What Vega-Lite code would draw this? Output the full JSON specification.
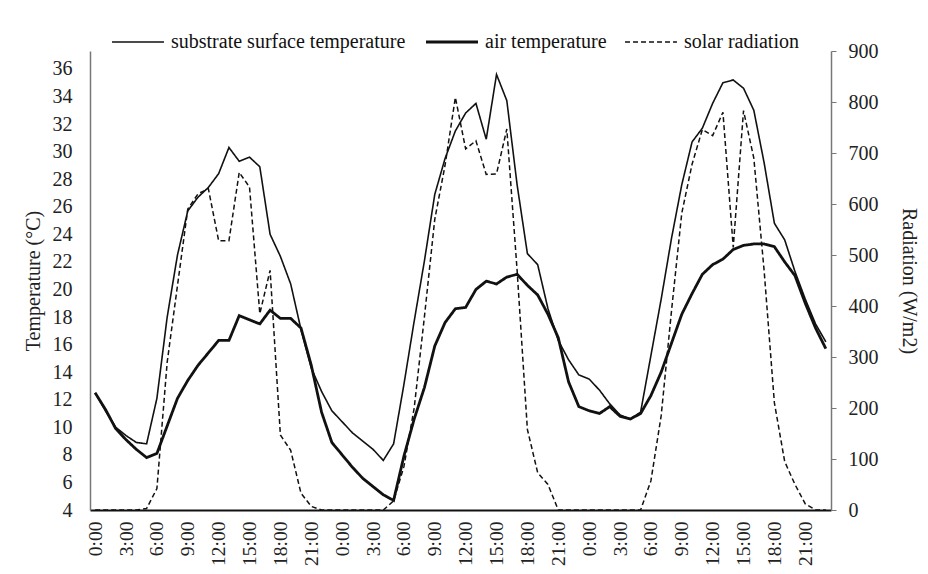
{
  "$schema": "https://vega.github.io/schema/vega-lite/v6.json",
  "autosize": {"type": "none"},
  "width": 741,
  "height": 459,
  "padding": {"left": 90, "top": 51, "right": 97, "bottom": 64},
  "background": "white",
  "config": {
    "view": {"stroke": null},
    "font": "Liberation Serif, DejaVu Serif, serif",
    "axis": {"labelFont": "Liberation Serif, DejaVu Serif, serif", "titleFont": "Liberation Serif, DejaVu Serif, serif", "labelColor": "#222", "titleColor": "#222", "grid": false, "titleFontWeight": "normal"},
    "legend": {"labelFont": "Liberation Serif, DejaVu Serif, serif"},
    "text": {"font": "Liberation Serif, DejaVu Serif, serif"}
  },
  "data": {
    "values": [
      {"h":0,"sub":12.5,"air":12.5,"rad":0},
      {"h":1,"sub":11.2,"air":11.3,"rad":0},
      {"h":2,"sub":10.0,"air":9.9,"rad":0},
      {"h":3,"sub":9.4,"air":9.1,"rad":0},
      {"h":4,"sub":8.9,"air":8.4,"rad":0},
      {"h":5,"sub":8.8,"air":7.8,"rad":3},
      {"h":6,"sub":12.1,"air":8.1,"rad":42},
      {"h":7,"sub":18.0,"air":10.1,"rad":290},
      {"h":8,"sub":22.5,"air":12.1,"rad":440},
      {"h":9,"sub":25.7,"air":13.4,"rad":590},
      {"h":10,"sub":26.7,"air":14.5,"rad":620},
      {"h":11,"sub":27.4,"air":15.4,"rad":630},
      {"h":12,"sub":28.4,"air":16.3,"rad":528},
      {"h":13,"sub":30.3,"air":16.3,"rad":528},
      {"h":14,"sub":29.3,"air":18.1,"rad":662},
      {"h":15,"sub":29.6,"air":17.8,"rad":633},
      {"h":16,"sub":28.9,"air":17.5,"rad":385},
      {"h":17,"sub":24.0,"air":18.5,"rad":470},
      {"h":18,"sub":22.4,"air":17.9,"rad":147},
      {"h":19,"sub":20.4,"air":17.9,"rad":117},
      {"h":20,"sub":17.1,"air":17.2,"rad":33},
      {"h":21,"sub":14.3,"air":14.5,"rad":7},
      {"h":22,"sub":12.6,"air":11.1,"rad":0},
      {"h":23,"sub":11.2,"air":8.9,"rad":0},
      {"h":24,"sub":10.4,"air":8.0,"rad":0},
      {"h":25,"sub":9.6,"air":7.1,"rad":0},
      {"h":26,"sub":9.0,"air":6.3,"rad":0},
      {"h":27,"sub":8.4,"air":5.7,"rad":0},
      {"h":28,"sub":7.6,"air":5.1,"rad":0},
      {"h":29,"sub":8.8,"air":4.7,"rad":18},
      {"h":30,"sub":13.1,"air":7.9,"rad":85},
      {"h":31,"sub":17.7,"air":10.6,"rad":200},
      {"h":32,"sub":22.1,"air":12.9,"rad":380},
      {"h":33,"sub":26.9,"air":15.9,"rad":570},
      {"h":34,"sub":29.5,"air":17.6,"rad":676},
      {"h":35,"sub":31.5,"air":18.6,"rad":809},
      {"h":36,"sub":32.8,"air":18.7,"rad":708},
      {"h":37,"sub":33.5,"air":20.0,"rad":724},
      {"h":38,"sub":30.9,"air":20.6,"rad":658},
      {"h":39,"sub":35.6,"air":20.4,"rad":659},
      {"h":40,"sub":33.7,"air":20.9,"rad":747},
      {"h":41,"sub":27.6,"air":21.1,"rad":470},
      {"h":42,"sub":22.6,"air":20.3,"rad":158},
      {"h":43,"sub":21.8,"air":19.6,"rad":73},
      {"h":44,"sub":18.6,"air":18.2,"rad":50},
      {"h":45,"sub":16.3,"air":16.5,"rad":0},
      {"h":46,"sub":14.9,"air":13.3,"rad":0},
      {"h":47,"sub":13.8,"air":11.5,"rad":0},
      {"h":48,"sub":13.5,"air":11.2,"rad":0},
      {"h":49,"sub":12.7,"air":11.0,"rad":0},
      {"h":50,"sub":11.7,"air":11.5,"rad":0},
      {"h":51,"sub":10.9,"air":10.8,"rad":0},
      {"h":52,"sub":10.6,"air":10.6,"rad":0},
      {"h":53,"sub":11.1,"air":11.0,"rad":0},
      {"h":54,"sub":15.2,"air":12.3,"rad":57},
      {"h":55,"sub":19.3,"air":14.0,"rad":185},
      {"h":56,"sub":23.7,"air":16.1,"rad":390},
      {"h":57,"sub":27.6,"air":18.2,"rad":582},
      {"h":58,"sub":30.7,"air":19.7,"rad":678},
      {"h":59,"sub":31.7,"air":21.1,"rad":746},
      {"h":60,"sub":33.5,"air":21.8,"rad":734},
      {"h":61,"sub":35.0,"air":22.2,"rad":780},
      {"h":62,"sub":35.2,"air":22.9,"rad":515},
      {"h":63,"sub":34.6,"air":23.2,"rad":783},
      {"h":64,"sub":33.0,"air":23.3,"rad":690},
      {"h":65,"sub":29.2,"air":23.3,"rad":470},
      {"h":66,"sub":24.8,"air":23.1,"rad":210},
      {"h":67,"sub":23.6,"air":22.0,"rad":95},
      {"h":68,"sub":21.3,"air":21.0,"rad":50},
      {"h":69,"sub":19.3,"air":19.0,"rad":12},
      {"h":70,"sub":17.5,"air":17.2,"rad":0},
      {"h":71,"sub":16.2,"air":15.7,"rad":0}
    ]
  },
  "encoding": {
    "x": {
      "field": "h", "type": "quantitative",
      "scale": {"domain": [-0.5, 71.5], "nice": false, "zero": false},
      "axis": {
        "title": null,
        "values": [0,3,6,9,12,15,18,21,24,27,30,33,36,39,42,45,48,51,54,57,60,63,66,69],
        "labelExpr": "(datum.value % 24) + ':00'",
        "labelAngle": 270,
        "labelFont": "Liberation Serif, DejaVu Serif, serif",
        "labelFontSize": 19.5,
        "labelPadding": 11,
        "ticks": false,
        "domainColor": "#111",
        "domainWidth": 2,
        "labelColor": "#222",
        "labelBound": false,
        "labelOverlap": false,
        "labelFlush": false
      }
    }
  },
  "layer": [
    {
      "transform": [{"fold": ["sub", "air"], "as": ["series", "value"]}],
      "mark": {"type": "line", "color": "#111", "strokeJoin": "miter", "strokeMiterLimit": 4},
      "encoding": {
        "y": {
          "field": "value", "type": "quantitative",
          "scale": {"domain": [4, 37.3], "nice": false, "zero": false},
          "axis": {
            "orient": "left",
            "title": "Temperature (°C)",
            "titleFont": "Liberation Serif, DejaVu Serif, serif",
            "titleFontSize": 20,
            "titlePadding": 9,
            "values": [4,6,8,10,12,14,16,18,20,22,24,26,28,30,32,34,36],
            "labelFont": "Liberation Serif, DejaVu Serif, serif",
            "labelFontSize": 20,
            "labelPadding": 18,
            "ticks": false,
            "domainColor": "#777",
            "domainWidth": 1.5
          }
        },
        "strokeDash": {
          "field": "series", "type": "ordinal",
          "scale": {"domain": ["sub", "air", "rad"], "range": [[1, 0], [1, 0], [5, 3]]},
          "legend": {
            "title": null,
            "orient": "none",
            "legendX": 38,
            "legendY": -19,
            "direction": "horizontal",
            "symbolType": "stroke",
            "symbolSize": 2700,
            "symbolStrokeColor": "#111",
            "symbolStrokeWidth": {"expr": "datum.value == 'air' ? 2.8 : 1.6"},
            "labelFont": "Liberation Serif, DejaVu Serif, serif",
            "labelFontSize": 20,
            "labelColor": "#111",
            "labelOffset": 23,
            "labelLimit": 400,
            "columnPadding": 14,
            "labelExpr": "datum.label == 'sub' ? 'substrate surface temperature' : datum.label == 'air' ? 'air temperature' : 'solar radiation'"
          }
        },
        "strokeWidth": {"condition": {"test": "datum.series == 'air'", "value": 2.8}, "value": 1.6},
        "detail": {"field": "series"}
      }
    },
    {
      "transform": [{"fold": ["rad"], "as": ["series", "value"]}],
      "mark": {"type": "line", "color": "#111", "strokeWidth": 1.5},
      "encoding": {
        "y": {
          "field": "value", "type": "quantitative",
          "scale": {"domain": [0, 900], "nice": false},
          "axis": {
            "orient": "right",
            "title": "Radiation (W/m2)",
            "titleFont": "Liberation Serif, DejaVu Serif, serif",
            "titleFontSize": 20,
            "titlePadding": 20,
            "values": [0,100,200,300,400,500,600,700,800,900],
            "labelFont": "Liberation Serif, DejaVu Serif, serif",
            "labelFontSize": 20,
            "labelPadding": 12,
            "ticks": true,
            "tickSize": 5,
            "tickColor": "#777",
            "domainColor": "#777",
            "domainWidth": 1.5
          }
        },
        "strokeDash": {"field": "series", "type": "ordinal"}
      }
    }
  ],
  "resolve": {"scale": {"y": "independent"}}
}
